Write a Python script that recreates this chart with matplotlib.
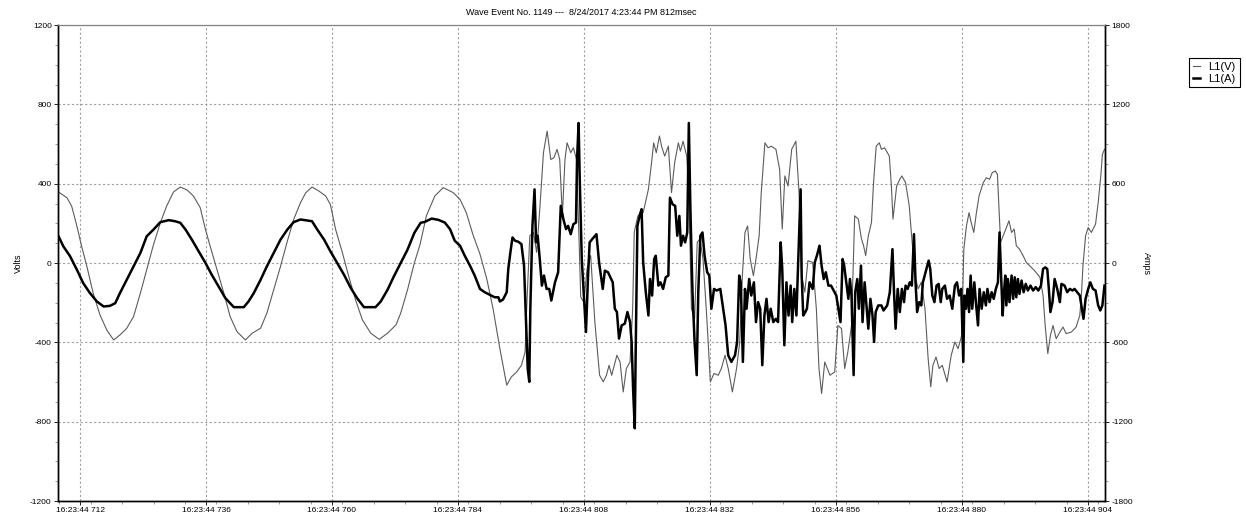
import matplotlib.pyplot as plt
from matplotlib.ticker import MultipleLocator

plt.rcParams['font.family'] = ['Liberation Sans', 'DejaVu Sans']
plt.rcParams['axes.unicode_minus'] = False

# time in ms after 16:23:44
volt_t = [707.9, 709.5, 710.4, 711.4, 712.3, 713.3, 714.5, 715.8, 717.1, 718.4, 719.6, 720.9, 722.2, 723.5,
          724.7, 726.0, 727.3, 728.5, 729.8, 731.1, 732.4, 733.6, 734.9, 735.9, 736.8, 738.1, 739.4, 740.6,
          741.9, 743.5, 744.8, 746.4, 747.6, 748.9, 750.2, 751.5, 752.7, 754.0, 755.0, 756.2, 757.5, 758.8,
          759.7, 760.7, 762.0, 763.2, 764.5, 765.8, 767.4, 769.0, 770.6, 772.2, 773.1, 774.4, 775.7,
          776.8, 778.0, 779.6, 781.2, 783.1, 784.4, 785.6, 786.9, 788.2, 789.5, 790.7, 792.0, 793.3, 794.2,
          795.2, 796.1, 796.8, 797.1, 797.7, 798.4, 799.0, 799.6, 800.3, 801.0, 801.7, 802.3, 802.9, 803.4,
          803.9, 804.4, 804.8, 805.5, 806.0, 806.6, 807.1, 807.4, 808.0, 808.6, 809.3,
          810.1, 811.0, 811.7, 812.3, 812.8, 813.3, 813.8, 814.3, 814.9, 815.5, 816.1, 816.8, 817.3, 817.6,
          818.3, 819.3, 820.3, 820.9, 821.3, 821.8, 822.4, 822.8, 823.4, 824.1, 824.7, 825.3, 826.0, 826.4,
          826.9, 827.6, 828.0, 828.5, 829.1, 829.6, 830.1, 830.7, 831.4, 832.1, 832.8, 833.6, 834.2, 834.9,
          835.5, 836.3, 837.1, 837.7, 838.2, 838.7, 839.2, 839.7, 840.3, 840.8, 841.4, 841.8, 842.5, 843.1,
          843.7, 844.6, 845.3, 845.8, 846.3, 846.9, 847.6, 848.4, 849.0, 849.5, 850.1, 850.7, 851.6, 852.3,
          852.8, 853.3, 853.9, 854.9, 855.8, 856.4, 857.1, 857.7, 858.3, 859.0,
          859.6, 860.3, 860.9, 861.3, 861.7, 862.2, 862.8, 863.2, 863.7, 864.3, 864.7, 865.3, 866.2, 866.6,
          866.9, 867.6, 868.2, 868.6, 869.3, 870.0, 870.4, 871.1, 871.7, 872.3, 873.0, 873.6, 874.1, 874.5,
          875.1, 875.7, 876.3, 877.2, 878.0, 878.7, 879.3, 880.0, 880.4, 880.9, 881.4, 881.8, 882.3, 882.8,
          883.3, 884.1, 884.7, 885.3, 885.8, 886.4, 886.8, 887.1, 887.4, 887.9, 888.4, 889.0, 889.5, 890.0,
          890.4, 891.0, 891.7, 892.3, 892.9, 893.9, 894.9, 895.5, 895.9, 896.4, 896.9, 897.4, 898.0, 898.7,
          899.3, 899.9, 900.9, 901.8, 902.5, 902.8, 903.1, 903.6, 904.1, 904.7, 905.5, 906.0, 906.5, 906.8,
          907.2]
volt_v = [358, 329, 287, 186, 84, -17, -152, -262, -338, -388, -363, -329, -270, -152,
          -34, 93, 203, 287, 358, 383, 368, 338, 279, 169, 84, -34, -152, -270,
          -346, -388, -354, -329, -253, -135, -17, 110, 219, 304, 354, 383, 363, 338,
          295, 169, 51, -68, -186, -287, -354, -385, -354, -312, -253, -135, 0,
          95, 238, 338, 380, 355, 321, 254, 140, 45, -80, -231, -432, -616, -574,
          -549, -516, -449, -231, 137, 154, 54, 271, 556, 665, 522, 531, 573, 522,
          238, 522, 606, 556, 581, 522, 104, -172, -198, -30, 37,
          -300, -566, -599, -566, -516, -566, -516, -465, -499, -650, -532, -499, -231, 154,
          238, 254, 372, 506, 606, 556, 640, 589, 539, 589, 355, 506, 606, 564,
          614, 539, 355, -231, -281, 104, 121, 20, -264, -599, -557, -566, -532, -465,
          -532, -650, -532, -398, -64, 154, 187, 20, -64, 20, 137, 355, 606, 581,
          589, 573, 472, 171, 439, 388, 573, 614, 355, -64, -147, 12, 3, -231,
          -532, -658, -499, -566, -549, -315, -331, -532, -449, -315,
          238, 221, 121, 87, 37, 137, 204, 405, 589, 606, 573, 581, 539, 388,
          221, 388, 422, 439, 405, 288, 154, -64, -130, -97, -231, -482, -624, -516,
          -474, -532, -516, -599, -465, -398, -432, -365, 70, 187, 254, 204, 154, 254,
          338, 405, 430, 422, 455, 464, 447, 271, 104, 137, 171, 213, 154, 171,
          87, 70, 37, 3, -13, -39, -72, -164, -315, -457, -365, -315, -382, -348,
          -323, -356, -348, -323, -264, -164, -13, 137, 179, 154, 196, 305, 439, 547,
          573]

amp_t = [707.9, 708.8, 710.1, 711.4, 712.6, 713.9, 715.2, 716.5, 717.7, 718.7, 719.6, 720.9, 722.2, 723.5,
         724.7, 726.0, 727.3, 728.9, 730.1, 731.1, 732.1, 733.3, 734.6, 735.9, 737.1, 738.4, 739.7, 741.3,
         743.2, 744.1, 745.1, 746.4, 747.6, 748.9, 750.2, 751.5, 752.7, 754.0, 755.3, 756.2, 757.2, 758.5,
         759.7, 761.0, 762.3, 763.6, 764.8, 766.1, 768.3, 769.3, 770.6, 771.8, 773.1, 774.4, 775.7, 776.9,
         777.7, 779.0, 780.3, 781.5, 782.5, 783.4,
         784.4, 785.3, 786.3, 787.2, 788.2, 789.1, 790.1, 791.0, 791.7, 792.0, 792.6, 793.3, 793.6, 794.0,
         794.4, 794.9, 795.5, 796.1, 796.6, 796.9, 797.3, 797.6, 797.8, 798.2, 798.6, 798.9, 799.2, 799.6,
         800.0, 800.4, 800.9, 801.4, 801.8, 802.5, 803.1, 803.6, 804.1, 804.6, 805.0, 805.5, 806.0, 806.5,
         806.7, 807.0, 807.2, 807.6, 808.0, 808.4, 808.8, 809.1, 809.6,
         810.4, 810.9, 811.6, 812.0, 812.6, 813.5, 813.9, 814.3, 814.7, 815.2, 815.8, 816.3, 816.8, 817.1,
         817.4, 817.7, 817.9, 818.2, 818.7, 819.0, 819.3, 819.8, 820.3, 820.6, 821.0, 821.4, 821.7, 822.2,
         822.6, 823.1, 823.6, 824.1, 824.4, 824.9, 825.4, 825.8, 826.2, 826.5, 826.9, 827.3, 827.7, 828.0,
         828.3, 828.7, 829.1, 829.5, 829.8, 830.2, 830.6, 831.0, 831.5, 831.9, 832.3, 832.8, 833.3, 834.0,
         835.0, 835.5, 836.1, 836.8, 837.2, 837.6, 837.9, 838.3, 838.7, 839.0, 839.5, 839.9, 840.4, 840.8,
         841.2, 841.6, 842.0, 842.4, 842.8, 843.2, 843.6, 844.1, 844.6, 845.0, 845.5, 845.8, 846.2, 846.6,
         847.0, 847.4, 847.7, 848.1, 848.5, 848.9, 849.3, 849.5, 849.8, 850.2, 850.5, 851.0, 851.6, 852.0,
         852.4, 852.9, 853.3, 853.7, 854.1, 854.6, 855.1, 855.6, 856.1, 856.5, 856.9, 857.3, 857.6, 858.0,
         858.4,
         858.7, 859.0, 859.4, 859.7, 860.1, 860.4, 860.8, 861.1, 861.5, 861.8, 862.2, 862.6, 863.0, 863.3,
         863.6, 864.1, 864.7, 865.1, 865.8, 866.3, 866.8, 867.1, 867.4, 867.8, 868.2, 868.6, 869.0, 869.3,
         869.7, 870.1, 870.5, 870.9, 871.2, 871.5, 871.9, 872.3, 872.6, 873.1, 873.7, 874.0, 874.4, 874.8,
         875.2, 875.6, 876.0, 876.3, 876.8, 877.2, 877.7, 878.2, 878.7, 879.1, 879.5, 879.9, 880.3, 880.5,
         880.8, 881.1, 881.4, 881.7, 882.0, 882.4, 882.7, 883.1,
         883.4, 883.8, 884.2, 884.6, 884.9, 885.3, 885.7, 886.1, 886.5, 886.9, 887.2, 887.5, 887.8, 888.0,
         888.3, 888.5, 888.8, 889.1, 889.5, 889.8, 890.1, 890.4, 890.7, 891.0, 891.4, 891.8, 892.2, 892.6,
         893.1, 893.6, 894.1, 894.6, 895.1, 895.5, 895.9, 896.3, 896.6, 896.9, 897.3, 897.7, 898.2, 898.7,
         899.0, 899.6, 900.1, 900.6, 901.1, 901.5, 902.0, 902.5, 902.9, 903.2, 903.6, 904.1, 904.5, 905.0,
         905.5, 906.0, 906.4, 906.8, 907.2]
amp_a = [202, 127, 51, -51, -152, -228, -291, -329, -324, -304, -228, -127, -25, 76,
         202, 253, 309, 324, 316, 304, 253, 177, 89, 0, -89, -177, -266, -334,
         -334, -291, -228, -127, -25, 76, 177, 253, 309, 329, 321, 316, 253, 177,
         89, 0, -89, -190, -266, -334, -334, -291, -202, -101, 0, 101, 228, 304,
         311, 336, 326, 306, 256, 168,
         131, 55, -20, -95, -196, -221, -241, -259, -259, -291, -276, -221, -45, 80,
         193, 168, 161, 143, -20, -346, -798, -899, -346, 281, 557, 156, 206, 30,
         -171, -95, -196, -196, -284, -146, -70, 432, 331, 256, 281, 218, 294, 306,
         783, 1059, 658, 30, -246, -522, -95, 156, 181,
         218, 5, -196, -58, -70, -146, -346, -371, -572, -472, -459, -371, -447, -597,
         -974, -1250, -597, 281, 369, 407, 5, -221, -397, -121, -246, 30, 55, -171,
         -146, -196, -108, -95, 494, 444, 432, 206, 356, 131, 206, 156, 231, 1059,
         407, -221, -597, -848, -221, 206, 231, 55, -70, -95, -346, -196, -208, -196,
         -472, -698, -748, -698, -597, -95, -146, -748, -196, -346, -121, -246, -146, -447,
         -296, -346, -773, -397, -271, -447, -346, -447, -422, -447, 156, -45, -622, -146,
         -397, -171, -447, -196, -397, 80, 557, -95, -397, -371, -346, -146, -196, 5,
         55, 131, -20, -121, -70, -171, -171, -208, -246, -346, -447, 30, -20, -146,
         -271,
         -121, -246, -848, -221, -121, -346, -20, -447, -146, -296, -497, -271, -397, -597,
         -371, -321, -321, -359, -321, -221, 105, -221, -497, -196, -371, -196, -296, -171,
         -196, -146, -171, 218, -146, -371, -296, -321, -146, -70, 18, -45, -246, -296,
         -171, -158, -296, -196, -171, -271, -246, -346, -171, -146, -246, -196, -748, -246,
         -346, -196, -371, -95, -346, -146, -296, -472,
         -196, -346, -221, -321, -196, -296, -221, -271, -196, -146, 231, -95, -397, -246,
         -95, -321, -121, -296, -95, -271, -108, -259, -121, -234, -133, -221, -158, -208,
         -171, -208, -183, -208, -171, -45, -33, -45, -196, -371, -296, -121, -196, -296,
         -158, -171, -221, -196, -208, -196, -221, -246, -346, -422, -271, -196, -146, -196,
         -208, -321, -359, -321, -171]

tick_ms = [712, 736, 760, 784, 808, 832, 856, 880, 904]
tick_labels = ["16:23:44 %d" % m for m in tick_ms]

fig = plt.figure(figsize=(12.46, 5.19), dpi=100)
ax = fig.add_axes([58 / 1246, 18 / 519, 1047 / 1246, 476 / 519])
ax2 = ax.twinx()

ax.plot(volt_t, volt_v, color='#5c5c5c', lw=0.8, label='L1(V)')
ax2.plot(amp_t, amp_a, color='black', lw=1.8, label='L1(A)')

ax.set_xlim(707.8, 907.3)
ax.set_ylim(-1200, 1200)
ax2.set_ylim(-1800, 1800)

ax.set_xticks(tick_ms)
ax.set_xticklabels(tick_labels)
ax.xaxis.set_minor_locator(MultipleLocator(6))
ax.set_yticks(range(-1200, 1201, 400))
ax.yaxis.set_minor_locator(MultipleLocator(100))
ax2.set_yticks(range(-1800, 1801, 600))
ax2.yaxis.set_minor_locator(MultipleLocator(150))

for a in (ax, ax2):
    a.tick_params(which='major', labelsize=6, length=3, width=0.6, pad=1.5, colors='black')
    a.tick_params(which='minor', length=2, width=0.5, color='#707070')
    a.spines['top'].set_color('#808080')
    for s in ('left', 'right', 'bottom'):
        a.spines[s].set_linewidth(1.0)

ax.grid(True, which='major', linestyle=(0, (2, 2)), color='#a0a0a0', lw=0.8)
ax.set_axisbelow(True)

ax.set_ylabel('Volts', fontsize=6.5, labelpad=5)
ax2.set_ylabel('Amps', fontsize=6.5, rotation=270, labelpad=13)
ax.set_title('Wave Event No. 1149 ---  8/24/2017 4:23:44 PM 812msec', fontsize=6.5, pad=7)

h1, l1 = ax.get_legend_handles_labels()
h2, l2 = ax2.get_legend_handles_labels()
leg = fig.legend(h1 + h2, l1 + l2, loc='upper left', bbox_to_anchor=(1189 / 1246, 1 - 58 / 519),
                 borderaxespad=0, fontsize=8, handlelength=0.6, handletextpad=0.8, borderpad=0.35,
                 labelspacing=0.15, fancybox=False, framealpha=1)
leg.get_frame().set_edgecolor('black')
leg.get_frame().set_linewidth(0.8)

fig.savefig('out.png', dpi=100)
